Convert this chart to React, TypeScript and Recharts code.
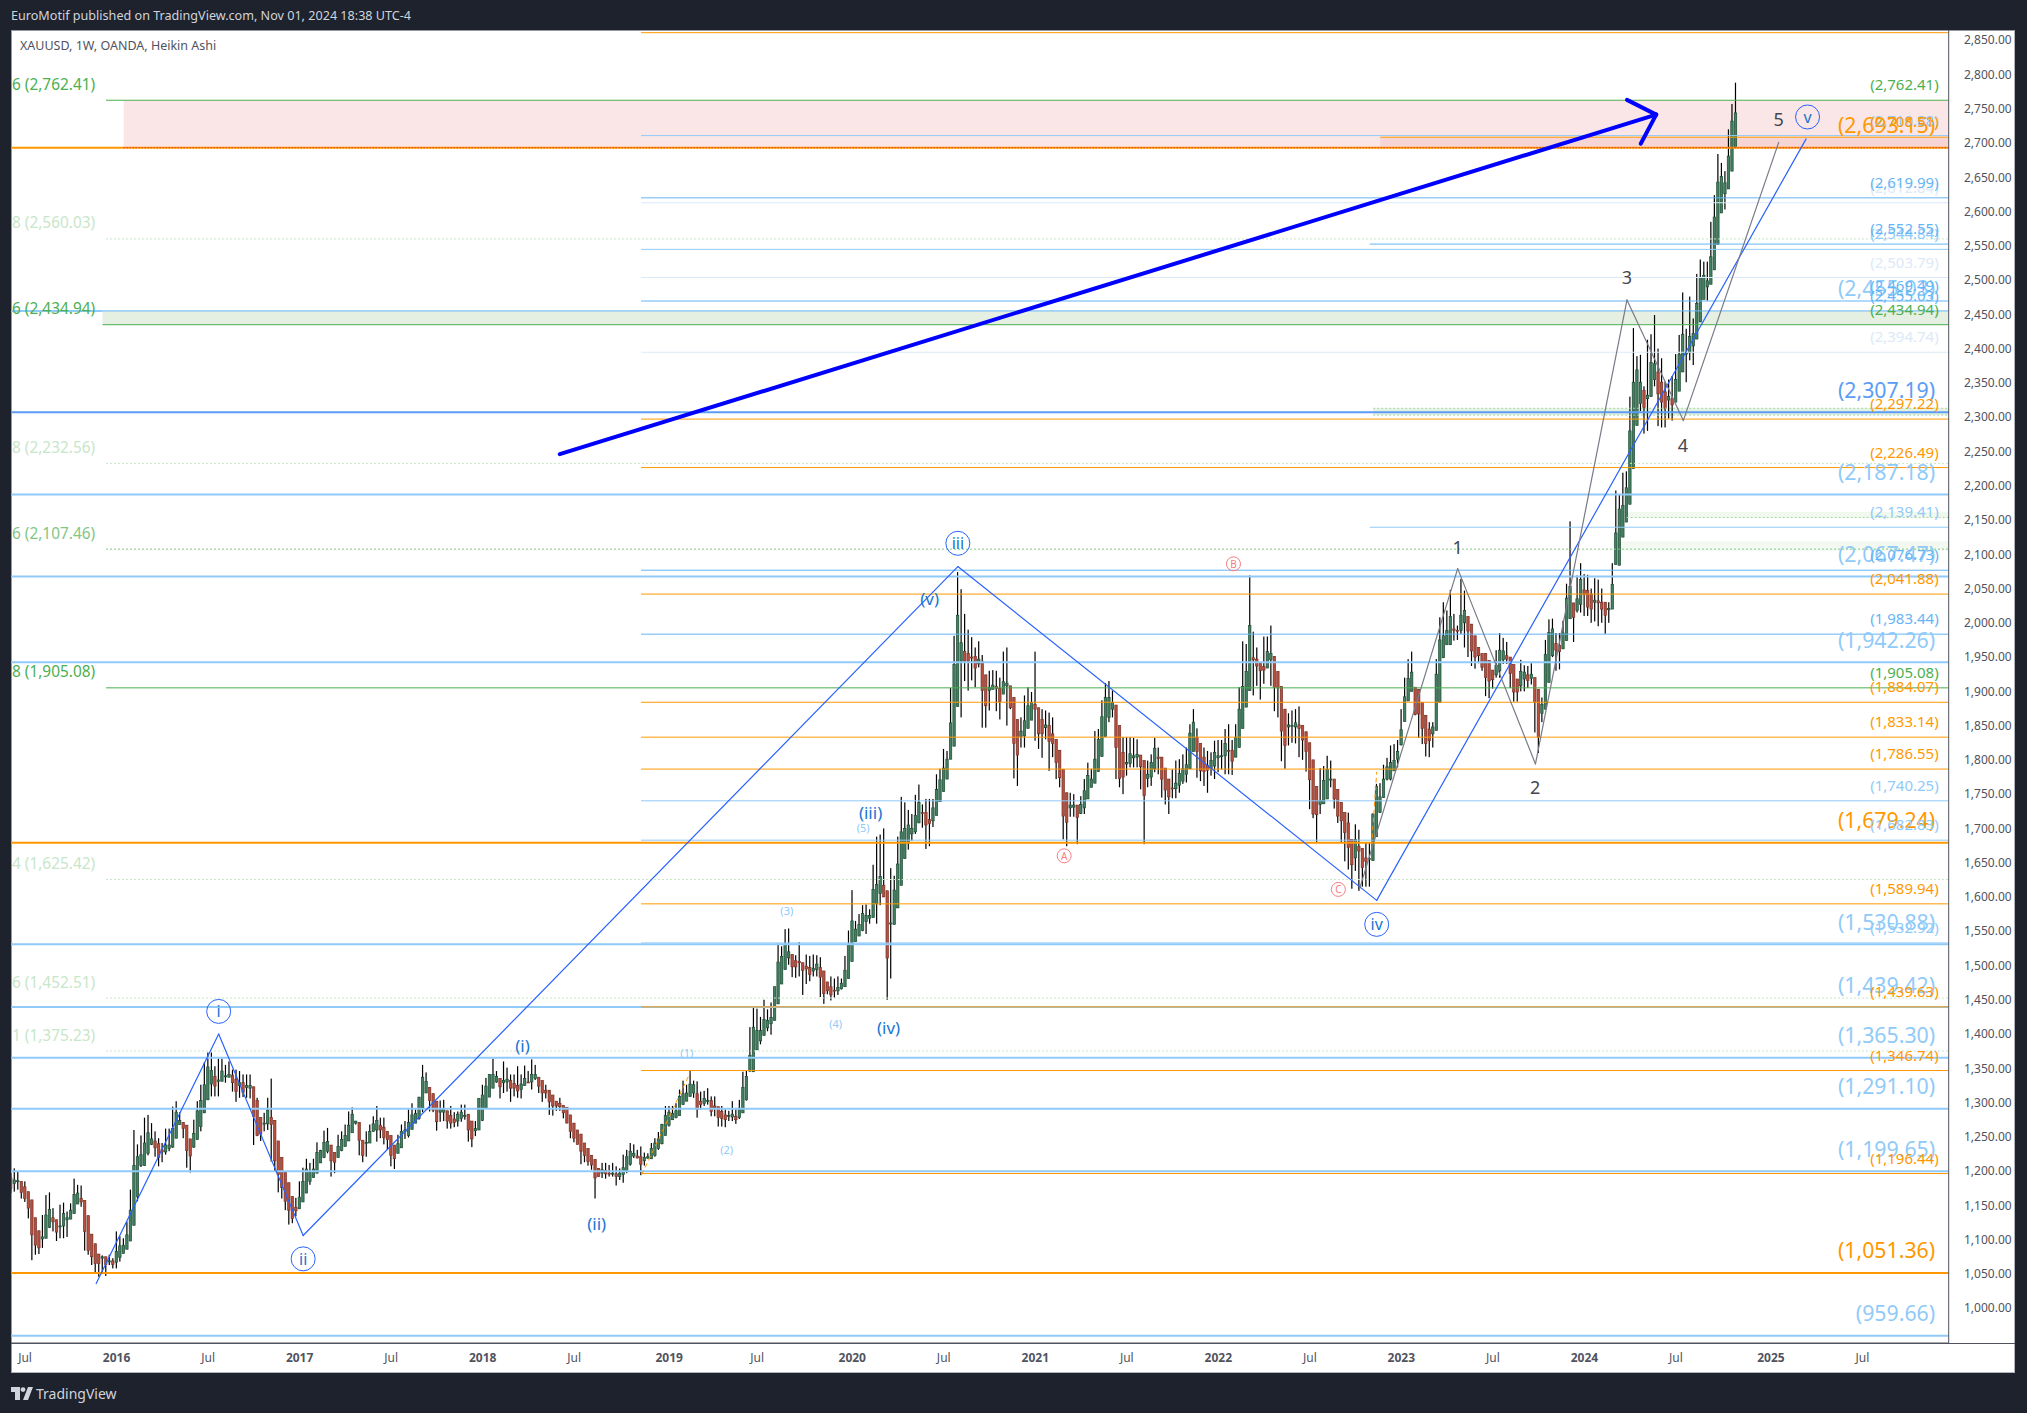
import { Bar, ComposedChart, ReferenceArea, ReferenceDot, ReferenceLine, XAxis, YAxis } from "recharts";

// weekly heikin ashi candles: [open, close, high, low]
const weeks2015 = [
  [1190, 1175, 1197, 1168], [1182, 1187, 1204, 1170], [1185, 1186, 1199, 1173], [1185, 1169, 1185, 1160], [1177, 1160, 1185, 1155],
  [1170, 1146, 1170, 1131], [1158, 1107, 1158, 1070], [1132, 1092, 1132, 1078], [1113, 1088, 1113, 1079], [1101, 1104, 1136, 1088],
  [1102, 1136, 1165, 1102], [1118, 1144, 1169, 1117], [1132, 1126, 1146, 1112], [1129, 1111, 1129, 1098], [1120, 1120, 1151, 1102],
  [1120, 1138, 1154, 1102], [1129, 1132, 1141, 1104], [1130, 1143, 1153, 1130], [1138, 1166, 1189, 1138], [1152, 1168, 1180, 1152],
  [1160, 1155, 1179, 1148], [1157, 1112, 1157, 1084], [1135, 1084, 1135, 1078], [1108, 1075, 1108, 1063], [1094, 1065, 1094, 1050],
  [1079, 1065, 1079, 1046], [1073, 1075, 1077, 1051], [1075, 1064, 1075, 1047], [1069, 1069, 1078, 1063], [1069, 1064, 1073, 1058],
];
const weeks2016 = [
  [1067, 1083, 1112, 1058], [1074, 1091, 1105, 1068], [1080, 1092, 1102, 1080], [1086, 1107, 1126, 1086], [1098, 1143, 1173, 1098],
  [1121, 1208, 1260, 1121], [1163, 1221, 1239, 1156], [1208, 1224, 1252, 1206], [1208, 1241, 1278, 1208], [1226, 1256, 1282, 1223],
  [1239, 1247, 1270, 1238], [1244, 1234, 1258, 1221], [1240, 1220, 1248, 1207], [1231, 1228, 1241, 1213], [1228, 1238, 1262, 1224],
  [1233, 1238, 1262, 1229], [1235, 1262, 1294, 1234], [1248, 1286, 1302, 1248], [1268, 1274, 1286, 1268], [1271, 1262, 1271, 1248],
  [1267, 1230, 1267, 1205], [1247, 1222, 1247, 1198], [1235, 1255, 1275, 1234], [1246, 1288, 1302, 1246], [1265, 1303, 1326, 1258],
  [1285, 1326, 1359, 1285], [1304, 1352, 1373, 1304], [1327, 1347, 1373, 1309], [1338, 1324, 1353, 1309], [1331, 1333, 1364, 1309],
  [1331, 1346, 1364, 1332], [1339, 1339, 1355, 1329], [1337, 1341, 1360, 1337], [1340, 1329, 1348, 1316], [1334, 1316, 1348, 1301],
  [1325, 1329, 1346, 1307], [1329, 1315, 1341, 1308], [1322, 1325, 1341, 1307], [1321, 1325, 1341, 1306], [1323, 1280, 1323, 1238],
  [1303, 1252, 1307, 1251], [1278, 1254, 1278, 1244], [1269, 1270, 1285, 1258], [1269, 1289, 1307, 1260], [1278, 1268, 1335, 1214],
  [1274, 1215, 1274, 1199], [1244, 1195, 1244, 1169], [1220, 1176, 1220, 1160], [1198, 1156, 1198, 1143], [1183, 1143, 1183, 1122],
  [1163, 1131, 1163, 1124], [1147, 1142, 1161, 1134],
];
const weeks2017 = [
  [1145, 1162, 1185, 1145], [1155, 1185, 1205, 1155], [1168, 1203, 1218, 1168], [1185, 1198, 1212, 1180], [1191, 1203, 1218, 1190],
  [1197, 1227, 1242, 1197], [1212, 1230, 1231, 1212], [1220, 1242, 1259, 1219], [1229, 1243, 1263, 1226], [1238, 1215, 1238, 1192],
  [1227, 1213, 1227, 1197], [1220, 1236, 1253, 1220], [1230, 1246, 1258, 1229], [1236, 1252, 1268, 1236], [1244, 1267, 1287, 1244],
  [1256, 1283, 1293, 1256], [1270, 1273, 1273, 1268], [1271, 1245, 1271, 1223], [1245, 1223, 1245, 1213], [1241, 1242, 1258, 1221],
  [1241, 1258, 1268, 1241], [1258, 1269, 1280, 1258], [1260, 1274, 1295, 1243], [1267, 1260, 1278, 1248], [1264, 1249, 1278, 1239],
  [1258, 1246, 1258, 1231], [1252, 1223, 1252, 1207], [1238, 1218, 1238, 1203], [1226, 1240, 1253, 1226], [1234, 1258, 1268, 1234],
  [1258, 1260, 1273, 1247], [1252, 1271, 1290, 1249], [1261, 1282, 1299, 1261], [1270, 1284, 1290, 1270], [1277, 1308, 1308, 1275],
  [1292, 1337, 1355, 1286], [1314, 1331, 1344, 1314], [1322, 1303, 1322, 1287], [1313, 1289, 1313, 1286], [1302, 1272, 1302, 1259],
  [1286, 1290, 1303, 1272], [1286, 1290, 1304, 1273], [1288, 1273, 1288, 1262], [1281, 1270, 1295, 1262], [1276, 1271, 1286, 1264],
  [1273, 1283, 1287, 1265], [1277, 1286, 1297, 1272], [1281, 1281, 1297, 1275], [1283, 1260, 1283, 1243], [1273, 1247, 1273, 1235],
  [1259, 1262, 1273, 1251], [1260, 1306, 1306, 1260],
];
const weeks2018 = [
  [1274, 1311, 1326, 1273], [1292, 1324, 1336, 1292], [1308, 1341, 1341, 1308], [1321, 1341, 1364, 1321], [1330, 1338, 1346, 1329],
  [1335, 1323, 1335, 1306], [1329, 1332, 1360, 1314], [1330, 1334, 1351, 1316], [1332, 1321, 1341, 1301], [1328, 1321, 1341, 1309],
  [1325, 1317, 1353, 1307], [1319, 1327, 1341, 1306], [1325, 1335, 1354, 1325], [1330, 1329, 1346, 1329], [1330, 1341, 1363, 1319],
  [1335, 1341, 1355, 1333], [1337, 1324, 1337, 1314], [1332, 1314, 1332, 1301], [1318, 1314, 1326, 1306], [1318, 1301, 1318, 1282],
  [1311, 1295, 1311, 1281], [1302, 1295, 1302, 1288], [1299, 1294, 1307, 1288], [1296, 1285, 1296, 1277], [1293, 1270, 1293, 1270],
  [1282, 1258, 1282, 1248], [1270, 1248, 1270, 1242], [1260, 1239, 1260, 1239], [1254, 1229, 1254, 1210], [1241, 1223, 1241, 1213],
  [1233, 1214, 1233, 1208], [1223, 1209, 1223, 1202], [1217, 1190, 1217, 1160], [1204, 1192, 1204, 1192], [1197, 1202, 1212, 1190],
  [1201, 1196, 1212, 1189], [1197, 1196, 1209, 1192], [1197, 1197, 1212, 1192], [1196, 1192, 1207, 1179], [1192, 1197, 1204, 1187],
  [1195, 1205, 1224, 1183], [1200, 1221, 1231, 1197], [1210, 1229, 1241, 1208], [1222, 1226, 1239, 1219], [1222, 1219, 1231, 1219],
  [1221, 1210, 1236, 1194], [1215, 1220, 1227, 1208], [1219, 1221, 1226, 1218], [1218, 1233, 1241, 1218], [1223, 1241, 1248, 1221],
  [1233, 1247, 1257, 1231], [1240, 1268, 1269, 1239], [1252, 1281, 1295, 1252],
];
const weeks2019 = [
  [1267, 1286, 1295, 1265], [1275, 1284, 1295, 1275], [1278, 1288, 1299, 1277], [1281, 1309, 1319, 1281], [1297, 1313, 1332, 1297],
  [1302, 1314, 1326, 1302], [1309, 1327, 1346, 1309], [1314, 1326, 1332, 1307], [1313, 1290, 1331, 1278], [1302, 1297, 1316, 1290],
  [1299, 1306, 1317, 1295], [1302, 1303, 1321, 1297], [1303, 1287, 1309, 1280], [1295, 1292, 1309, 1280], [1294, 1278, 1294, 1265],
  [1287, 1277, 1295, 1265], [1282, 1275, 1290, 1264], [1280, 1281, 1288, 1273], [1279, 1283, 1302, 1273], [1280, 1275, 1290, 1269],
  [1278, 1292, 1304, 1276], [1285, 1322, 1345, 1285], [1304, 1338, 1346, 1303], [1346, 1369, 1410, 1345], [1345, 1410, 1438, 1345],
  [1377, 1405, 1437, 1377], [1390, 1405, 1425, 1385], [1398, 1421, 1450, 1398], [1409, 1420, 1436, 1404], [1415, 1424, 1446, 1399],
  [1420, 1469, 1469, 1420], [1444, 1505, 1532, 1444], [1473, 1513, 1528, 1473], [1494, 1531, 1553, 1494], [1511, 1520, 1554, 1501],
  [1516, 1498, 1516, 1483], [1507, 1498, 1515, 1482], [1506, 1504, 1534, 1484], [1504, 1493, 1504, 1457], [1499, 1495, 1516, 1473],
  [1497, 1487, 1514, 1477], [1492, 1496, 1516, 1484], [1494, 1502, 1515, 1484], [1497, 1483, 1512, 1454], [1492, 1459, 1492, 1444],
  [1476, 1463, 1476, 1458], [1469, 1457, 1484, 1449], [1464, 1463, 1481, 1453], [1463, 1468, 1484, 1457], [1466, 1474, 1481, 1465],
  [1469, 1493, 1514, 1469], [1481, 1530, 1551, 1481],
];
const weeks2020 = [
  [1506, 1565, 1610, 1506], [1535, 1553, 1565, 1535], [1543, 1560, 1575, 1543], [1551, 1576, 1588, 1550], [1564, 1573, 1589, 1546],
  [1569, 1573, 1582, 1561], [1570, 1611, 1647, 1570], [1590, 1618, 1688, 1561], [1605, 1630, 1691, 1588], [1617, 1600, 1700, 1600],
  [1609, 1511, 1609, 1450], [1561, 1562, 1642, 1481], [1560, 1610, 1631, 1560], [1584, 1648, 1688, 1584], [1617, 1695, 1746, 1617],
  [1656, 1700, 1738, 1656], [1678, 1705, 1727, 1669], [1692, 1700, 1721, 1682], [1695, 1719, 1749, 1692], [1708, 1738, 1764, 1708],
  [1723, 1722, 1735, 1701], [1723, 1705, 1743, 1670], [1713, 1707, 1743, 1674], [1711, 1730, 1743, 1702], [1719, 1757, 1779, 1719],
  [1739, 1771, 1787, 1739], [1754, 1788, 1816, 1754], [1772, 1801, 1813, 1772], [1801, 1854, 1905, 1801], [1820, 1939, 1981, 1820],
  [1878, 2011, 2074, 1878], [1944, 1971, 2049, 1862], [1958, 1944, 2013, 1915], [1955, 1944, 1990, 1901], [1950, 1949, 1979, 1916],
  [1951, 1934, 1964, 1906], [1940, 1947, 1973, 1935], [1944, 1901, 1953, 1847], [1924, 1879, 1924, 1847], [1901, 1906, 1930, 1872],
  [1903, 1909, 1931, 1903], [1907, 1904, 1930, 1871], [1904, 1885, 1920, 1859], [1896, 1914, 1958, 1896], [1908, 1912, 1964, 1850],
  [1908, 1876, 1908, 1874], [1891, 1824, 1891, 1773], [1859, 1807, 1859, 1762], [1834, 1842, 1862, 1818], [1835, 1857, 1894, 1818],
  [1846, 1879, 1906, 1846], [1858, 1884, 1899, 1858],
];
const weeks2021 = [
  [1881, 1874, 1958, 1828], [1876, 1838, 1876, 1816], [1859, 1838, 1874, 1803], [1847, 1851, 1872, 1830], [1850, 1827, 1869, 1784],
  [1838, 1824, 1862, 1804], [1830, 1796, 1830, 1772], [1814, 1774, 1814, 1760], [1786, 1718, 1786, 1684], [1752, 1709, 1752, 1674],
  [1730, 1734, 1752, 1717], [1731, 1734, 1750, 1717], [1734, 1716, 1734, 1677], [1722, 1735, 1747, 1721], [1730, 1755, 1772, 1721],
  [1743, 1777, 1796, 1743], [1760, 1772, 1787, 1760], [1766, 1801, 1842, 1766], [1783, 1830, 1845, 1783], [1805, 1863, 1887, 1805],
  [1834, 1891, 1912, 1834], [1862, 1891, 1915, 1855], [1874, 1884, 1901, 1862], [1880, 1818, 1880, 1772], [1850, 1773, 1850, 1760],
  [1811, 1775, 1833, 1750], [1794, 1796, 1833, 1777], [1795, 1809, 1833, 1789], [1803, 1806, 1832, 1789], [1804, 1808, 1830, 1789],
  [1807, 1790, 1807, 1757], [1799, 1748, 1799, 1677], [1773, 1779, 1799, 1760], [1775, 1796, 1808, 1762], [1787, 1817, 1832, 1782],
  [1804, 1802, 1818, 1779], [1804, 1772, 1804, 1745], [1788, 1756, 1788, 1735], [1772, 1746, 1772, 1721], [1759, 1758, 1786, 1744],
  [1758, 1766, 1799, 1744], [1763, 1780, 1801, 1752], [1769, 1787, 1808, 1765], [1779, 1793, 1818, 1767], [1787, 1839, 1852, 1787],
  [1812, 1855, 1874, 1812], [1833, 1812, 1846, 1774], [1824, 1784, 1824, 1769], [1804, 1783, 1818, 1762], [1792, 1785, 1813, 1752],
  [1787, 1799, 1811, 1777], [1791, 1811, 1828, 1772],
];
const weeks2022 = [
  [1803, 1806, 1829, 1782], [1805, 1806, 1829, 1786], [1806, 1824, 1845, 1779], [1814, 1813, 1852, 1779], [1814, 1798, 1829, 1778],
  [1804, 1833, 1852, 1804], [1818, 1874, 1906, 1818], [1846, 1907, 1973, 1846], [1877, 1929, 1969, 1877], [1901, 1996, 2069, 1901],
  [1949, 1946, 1987, 1894], [1947, 1937, 1964, 1908], [1941, 1930, 1941, 1888], [1936, 1931, 1980, 1911], [1934, 1958, 1980, 1934],
  [1946, 1955, 1996, 1908], [1951, 1906, 1951, 1871], [1929, 1905, 1929, 1862], [1907, 1842, 1907, 1798], [1874, 1821, 1874, 1787],
  [1848, 1851, 1868, 1821], [1850, 1850, 1872, 1825], [1848, 1854, 1874, 1824], [1851, 1846, 1878, 1804], [1850, 1829, 1850, 1800],
  [1841, 1812, 1841, 1783], [1825, 1771, 1825, 1728], [1800, 1721, 1800, 1715], [1761, 1720, 1761, 1679], [1735, 1741, 1788, 1721],
  [1736, 1770, 1791, 1736], [1743, 1786, 1806, 1743], [1772, 1772, 1799, 1760], [1772, 1743, 1772, 1729], [1757, 1718, 1757, 1708],
  [1738, 1711, 1738, 1679], [1723, 1694, 1723, 1652], [1708, 1672, 1723, 1640], [1684, 1647, 1684, 1612], [1657, 1684, 1706, 1638],
  [1674, 1667, 1698, 1609], [1671, 1643, 1671, 1615], [1657, 1652, 1679, 1615], [1655, 1656, 1679, 1615], [1653, 1721, 1722, 1653],
  [1688, 1761, 1765, 1688], [1723, 1746, 1766, 1723], [1745, 1772, 1793, 1745], [1772, 1790, 1803, 1770], [1772, 1796, 1821, 1770],
  [1784, 1799, 1823, 1784], [1801, 1812, 1829, 1789],
];
const weeks2023 = [
  [1822, 1844, 1874, 1821], [1856, 1892, 1920, 1856], [1886, 1919, 1947, 1886], [1900, 1928, 1958, 1900], [1906, 1866, 1906, 1865],
  [1903, 1867, 1903, 1832], [1884, 1846, 1884, 1823], [1865, 1824, 1865, 1805], [1845, 1828, 1855, 1804], [1838, 1848, 1855, 1818],
  [1843, 1925, 1947, 1843], [1884, 1975, 2008, 1884], [1949, 1981, 2030, 1949], [1968, 1989, 2018, 1968], [1968, 2009, 2048, 1968],
  [1991, 1989, 2013, 1974], [1989, 1988, 1996, 1975], [1989, 2011, 2064, 1984], [2000, 2018, 2047, 1964], [2009, 1988, 2009, 1950],
  [1998, 1959, 1998, 1937], [1981, 1950, 1981, 1933], [1964, 1952, 1964, 1941], [1955, 1935, 1955, 1930], [1955, 1920, 1955, 1893],
  [1945, 1915, 1945, 1890], [1931, 1917, 1931, 1904], [1924, 1938, 1960, 1920], [1930, 1960, 1985, 1920], [1946, 1959, 1978, 1940],
  [1952, 1947, 1972, 1940], [1950, 1926, 1950, 1905], [1939, 1899, 1939, 1885], [1918, 1899, 1918, 1885], [1908, 1929, 1946, 1900],
  [1918, 1928, 1938, 1900], [1924, 1916, 1937, 1905], [1919, 1925, 1941, 1910], [1920, 1884, 1920, 1840], [1903, 1833, 1903, 1810],
  [1868, 1881, 1891, 1855], [1874, 1954, 1975, 1874], [1913, 1986, 2005, 1913], [1952, 1991, 2006, 1950], [1970, 1960, 1985, 1930],
  [1967, 1958, 1985, 1932], [1962, 1985, 2003, 1962], [1974, 2036, 2057, 1974], [2006, 2053, 2148, 2006], [2029, 2008, 2029, 1972],
  [2018, 2035, 2069, 2015], [2027, 2063, 2087, 2015], [2048, 2041, 2071, 2010],
];
const weeks2024 = [
  [2047, 2023, 2070, 2010], [2042, 2020, 2050, 2000], [2030, 2033, 2065, 2002], [2032, 2029, 2063, 1995], [2030, 2020, 2050, 2000],
  [2030, 2011, 2030, 1984], [2019, 2021, 2030, 2000], [2020, 2056, 2087, 2020], [2085, 2131, 2193, 2085], [2084, 2166, 2187, 2084],
  [2125, 2171, 2219, 2125], [2147, 2197, 2221, 2147], [2173, 2280, 2330, 2173], [2225, 2351, 2430, 2225], [2288, 2369, 2389, 2288],
  [2320, 2351, 2391, 2309], [2339, 2314, 2345, 2276], [2327, 2332, 2413, 2280], [2330, 2380, 2421, 2330], [2355, 2378, 2449, 2345],
  [2366, 2334, 2400, 2287], [2351, 2322, 2386, 2285], [2337, 2313, 2352, 2285], [2325, 2330, 2355, 2298], [2327, 2318, 2360, 2295],
  [2322, 2355, 2392, 2322], [2338, 2392, 2420, 2338], [2366, 2421, 2482, 2366], [2392, 2394, 2429, 2351], [2394, 2418, 2476, 2383],
  [2404, 2422, 2444, 2376], [2414, 2466, 2509, 2414], [2439, 2504, 2530, 2439], [2472, 2507, 2527, 2472], [2490, 2499, 2527, 2470],
  [2494, 2534, 2585, 2494], [2515, 2592, 2624, 2515], [2552, 2643, 2684, 2552], [2598, 2651, 2671, 2598], [2626, 2642, 2659, 2603],
  [2633, 2681, 2720, 2633], [2659, 2732, 2757, 2659], [2693, 2744, 2788, 2693],
];

const priceTicks = [
  2850, 2800, 2750, 2700, 2650, 2600, 2550, 2500, 2450, 2400, 2350, 2300, 2250, 2200, 2150, 2100, 2050, 2000, 1950,
  1900, 1850, 1800, 1750, 1700, 1650, 1600, 1550, 1500, 1450, 1400, 1350, 1300, 1250, 1200, 1150, 1100, 1050, 1000,
];
const timeTicks = [4, 30, 56, 82, 108, 134, 160, 187, 212, 239, 265, 291, 317, 343, 369, 395, 421, 447, 473, 500, 526];
const timeLabels = ["Jul", "2016", "Jul", "2017", "Jul", "2018", "Jul", "2019", "Jul", "2020", "Jul", "2021", "Jul", "2022", "Jul", "2023", "Jul", "2024", "Jul", "2025", "Jul"];

// horizontal levels
const bigBlueLevels = [2187.18, 2067.47, 1942.26, 1530.88, 1439.42, 1365.3, 1291.1, 1199.65, 959.66];
const bigOrangeLevels = [2693.15, 1679.24, 1051.36];
const midBlueLevels = [2619.99, 2469.49, 2076.73, 1983.44];
const lightBlueLevels = [2710.88, 2544.84, 1740.25, 1682.83, 1532.92];
const paleBlueLevels = [2612.84, 2503.79, 2394.74];
const orangeLevels = [2297.22, 2226.49, 2041.88, 1884.07, 1833.14, 1786.55, 1589.94, 1439.63, 1346.74, 1196.44];
const solidGreenLevels = [2762.41, 2434.94, 1905.08];
const solidGreenDigits = ["6", "6", "8"];
const paleGreenLevels = [2560.03, 2232.56, 1625.42, 1452.51, 1375.23];
const paleGreenDigits = ["8", "8", "4", "6", "1"];
const bandEdges = [[2313, 387], [2303, 387], [2153.7, 459]];

// drawing tools
const blueWaveX = [24.2, 59, 83, 269, 388, 510];
const blueWaveY = [1036, 1400, 1106, 2082, 1595, 2706];
const greyWaveX = [383, 411, 433.1, 459.1, 475.1, 502.2];
const greyWaveY = [1610, 2079, 1794, 2471, 2295, 2701];
const circledWaves = [["i", 59, 1433], ["ii", 83, 1072], ["iii", 269, 2116], ["iv", 388, 1560], ["v", 510.4, 2738]];
const minorWaves = [["(i)", 145.3, 1383], ["(ii)", 166.4, 1124], ["(iii)", 244.2, 1723], ["(iv)", 249.3, 1409], ["(v)", 261, 2035]];
const tinyWaves = [["(1)", 192, 1373], ["(2)", 203.3, 1231], ["(3)", 220.4, 1580], ["(4)", 234.3, 1416], ["(5)", 242.1, 1702]];
const abcWaves = [["A", 299.2, 1660], ["B", 347.3, 2086], ["C", 377.1, 1611]];
const greyCounts = [["1", 411, 2111], ["2", 433, 1761], ["3", 459.1, 2505], ["4", 475, 2259], ["5", 502.2, 2735]];

const candles = [...weeks2015, ...weeks2016, ...weeks2017, ...weeks2018, ...weeks2019, ...weeks2020, ...weeks2021, ...weeks2022, ...weeks2023, ...weeks2024]
  .map(([open, close, high, low], week) => ({ week, open, close, high, low }));

const FONT = "'Noto Sans', sans-serif";
const X_MAX = 550.5;
const GREEN = "#4caf50";
const ORANGE = "#ff9800";
const LIGHT_BLUE = "#90caf9";
const MID_BLUE = "#64b5f6";
const PALE_GREEN = "#c8e6c9";

const price = (v: number) => "(" + v.toLocaleString("en-US", { minimumFractionDigits: 2, maximumFractionDigits: 2 }) + ")";

function Wick(props: any) {
  const { x, y, width, height } = props;
  return <rect x={x + width / 2 - 0.6} y={y} width={1.2} height={height} fill="#000" />;
}

function Body(props: any) {
  const { x, y, width, height, payload } = props;
  const up = payload.close >= payload.open;
  return <rect x={x + 0.3} y={y} width={width - 0.6} height={Math.max(height, 1)} fill={up ? "#447f61" : "#b5503f"} stroke={up ? "#1e4d35" : "#7c3329"} strokeWidth={0.7} />;
}

// a horizontal level from a week to the right edge
const level = (value: number, from: number, color: string, width = 1, dash?: string, to = X_MAX) => (
  <ReferenceLine
    key={`${value}-${color}-${from}`}
    segment={[{ x: from, y: value }, { x: to, y: value }]}
    stroke={color}
    strokeWidth={width}
    strokeDasharray={dash}
    ifOverflow="visible"
  />
);

// text pinned to a data position, moved by a few pixels
const note = (key: string, x: number, y: number, text: string, color: string, size: number, anchor = "middle", dx = 0, dy = 0) => (
  <ReferenceDot
    key={key}
    x={x}
    y={y}
    r={0}
    ifOverflow="visible"
    shape={(p: any) => (
      <text x={p.cx + dx} y={p.cy + dy} fill={color} fontSize={size} fontFamily={FONT} textAnchor={anchor as any} dominantBaseline="central">
        {text}
      </text>
    )}
  />
);

const circled = (key: string, x: number, y: number, text: string, ring: string, color: string, r: number, size: number) => (
  <ReferenceDot
    key={key}
    x={x}
    y={y}
    r={0}
    ifOverflow="visible"
    shape={(p: any) => (
      <g>
        <circle cx={p.cx} cy={p.cy} r={r} fill="none" stroke={ring} strokeWidth={1} />
        <text x={p.cx} y={p.cy} fill={color} fontSize={size} fontFamily={FONT} textAnchor="middle" dominantBaseline="central">
          {text}
        </text>
      </g>
    )}
  />
);

const rightLabel = (value: number, color: string) => note(`r${value}${color}`, X_MAX, value, price(value), color, 15, "end", -10, -16);
const bigLabel = (value: number, color: string) => note(`b${value}${color}`, X_MAX, value, price(value), color, 21.3, "end", -13.5, -23);
const leftLabel = (value: number, digit: string, color: string) => note(`l${value}`, 0, value, `${digit} ${price(value)}`, color, 15.4, "start", 1, -16);

const polyline = (name: string, xs: number[], ys: number[], color: string, width: number, dash?: string) =>
  xs.slice(1).map((x, n) => (
    <ReferenceLine
      key={`${name}${n}`}
      segment={[{ x: xs[n], y: ys[n] }, { x, y: ys[n + 1] }]}
      stroke={color}
      strokeWidth={width}
      strokeDasharray={dash}
      strokeLinecap="round"
      ifOverflow="visible"
    />
  ));

function TimeTick(props: any) {
  const { x, y, index } = props;
  const label = timeLabels[index];
  return (
    <text x={x} y={y + 6} textAnchor="middle" dominantBaseline="central" fontSize={12} fontFamily={FONT} fontWeight={label === "Jul" ? 400 : 700} fill="#50535e">
      {label}
    </text>
  );
}

export default function App() {
  return (
    <div style={{ position: "absolute", left: 0, top: 0, width: 2027, height: 1413, background: "#1e222d", overflow: "hidden", fontFamily: FONT }}>
      <div style={{ position: "absolute", left: 11, top: 7, fontSize: 12.6, color: "#d1d4dc", whiteSpace: "nowrap" }}>EuroMotif published on TradingView.com, Nov 01, 2024 18:38 UTC-4</div>
      <div style={{ position: "absolute", left: 11, top: 30, width: 2004, height: 1343, background: "#fff", boxSizing: "border-box", borderLeft: "1px solid #9598a1", borderTop: "1px solid #9598a1", borderRight: "1px solid #b2b5be", borderBottom: "1px solid #b2b5be" }} />
      <div style={{ position: "absolute", left: 11, top: 1343, width: 2004, height: 1, background: "#50535e" }} />
      <div style={{ position: "absolute", left: 20, top: 37, fontSize: 12.5, color: "#50535e", whiteSpace: "nowrap", zIndex: 2 }}>XAUUSD, 1W, OANDA, Heikin Ashi</div>

      <div style={{ position: "absolute", left: 0, top: 0 }}>
        <ComposedChart width={2027} height={1413} data={candles} margin={{ top: 30, right: 12, bottom: 40, left: 11 }} barCategoryGap={0}>
          <XAxis dataKey="week" type="number" domain={[0, X_MAX]} ticks={timeTicks} interval={0} height={30} allowDataOverflow tickLine={false} axisLine={{ stroke: "#50535e" }} tick={<TimeTick />} />
          <XAxis xAxisId="wicks" dataKey="week" type="number" domain={[0, X_MAX]} ticks={timeTicks} hide allowDataOverflow />
          <YAxis
            orientation="right"
            type="number"
            domain={[949.2, 2864.9]}
            ticks={priceTicks}
            interval={0}
            width={66.3}
            allowDataOverflow
            tickLine={false}
            tickMargin={9.3}
            axisLine={{ stroke: "#50535e" }}
            tick={{ fill: "#50535e", fontSize: 12, fontFamily: FONT }}
            tickFormatter={(v: number) => v.toLocaleString("en-US", { minimumFractionDigits: 2 })}
          />

          <ReferenceArea x1={32} x2={X_MAX} y1={2693.15} y2={2762.41} fill="#fae6e6" fillOpacity={1} stroke="none" ifOverflow="visible" />
          <ReferenceArea x1={389} x2={X_MAX} y1={2693.15} y2={2708.51} fill="#f7d5d5" fillOpacity={1} stroke="none" ifOverflow="visible" />
          <ReferenceArea x1={26} x2={X_MAX} y1={2434.94} y2={2455.03} fill="#e5f0e2" fillOpacity={1} stroke="none" ifOverflow="visible" />
          <ReferenceArea x1={387} x2={X_MAX} y1={2303} y2={2313} fill="#e6f2e0" fillOpacity={1} stroke="none" ifOverflow="visible" />
          <ReferenceArea x1={459} x2={X_MAX} y1={2153.7} y2={2161.6} fill="#f1f8ee" fillOpacity={1} stroke="none" ifOverflow="visible" />
          <ReferenceArea x1={455} x2={X_MAX} y1={2105.6} y2={2119} fill="#f3f9f1" fillOpacity={1} stroke="none" ifOverflow="visible" />

          {paleGreenLevels.map((v) => level(v, 27, PALE_GREEN, 1, "2 2"))}
          {bandEdges.map(([v, from]) => level(v, from, "#a5d6a7", 1, "2 2"))}
          {level(2107.46, 27, "#81c784", 1, "2 2")}
          {paleBlueLevels.map((v) => level(v, 179, "#dbe9f8"))}
          {lightBlueLevels.map((v) => level(v, 179, LIGHT_BLUE))}
          {level(2139.41, 386, LIGHT_BLUE)}
          {midBlueLevels.map((v) => level(v, 179, MID_BLUE))}
          {level(2552.55, 386, MID_BLUE)}
          {bigBlueLevels.map((v) => level(v, 0, LIGHT_BLUE, 2))}
          {level(2455.03, 0, LIGHT_BLUE, 2, undefined, 26)}
          {level(2455.03, 26, MID_BLUE)}
          {level(2307.19, 0, "#5b9cf6", 2)}
          {solidGreenLevels.map((v, n) => level(v, n === 1 ? 26 : 27, GREEN))}
          {level(2861, 179, ORANGE)}
          {orangeLevels.map((v) => level(v, 179, ORANGE))}
          {level(2708.51, 389, ORANGE)}
          {bigOrangeLevels.map((v) => level(v, 0, ORANGE, 2))}
          {level(2693.15, 32, "#d32f2f", 1.2, "1 2")}

          {polyline("dashA", [179.2, 192.9], [1195, 1343], ORANGE, 1, "4 4")}
          {polyline("dashB", [386.7, 388], [1686, 1782], ORANGE, 1, "4 4")}

          <Bar xAxisId="wicks" dataKey={(d: any) => [d.low, d.high]} barSize={3} shape={<Wick />} isAnimationActive={false} />
          <Bar dataKey={(d: any) => [Math.min(d.open, d.close), Math.max(d.open, d.close)]} barSize={3} shape={<Body />} isAnimationActive={false} />

          {polyline("blue", blueWaveX, blueWaveY, "#2962ff", 1.2)}
          {polyline("grey", greyWaveX, greyWaveY, "#787b86", 1.2)}
          {polyline("arrow", [155.9, 467.4], [2246, 2741.4], "#0000ff", 4)}
          {polyline("arrowHead", [459.1, 467.4, 463], [2763, 2741.4, 2699], "#0000ff", 4)}

          {paleGreenLevels.map((v, n) => leftLabel(v, paleGreenDigits[n], PALE_GREEN))}
          {leftLabel(2107.46, "6", "#81c784")}
          {solidGreenLevels.map((v, n) => leftLabel(v, solidGreenDigits[n], GREEN))}

          {paleBlueLevels.map((v) => rightLabel(v, "#dbe9f8"))}
          {bigBlueLevels.map((v) => bigLabel(v, LIGHT_BLUE))}
          {bigLabel(2455.03, LIGHT_BLUE)}
          {bigLabel(2307.19, "#5b9cf6")}
          {bigOrangeLevels.map((v) => bigLabel(v, ORANGE))}
          {lightBlueLevels.map((v) => rightLabel(v, LIGHT_BLUE))}
          {rightLabel(2139.41, LIGHT_BLUE)}
          {midBlueLevels.map((v) => rightLabel(v, MID_BLUE))}
          {rightLabel(2552.55, MID_BLUE)}
          {rightLabel(2455.03, MID_BLUE)}
          {orangeLevels.map((v) => rightLabel(v, ORANGE))}
          {rightLabel(2708.51, ORANGE)}
          {solidGreenLevels.map((v) => rightLabel(v, GREEN))}

          {circledWaves.map(([t, x, y]: any) => circled(`c${t}`, x, y, t, "#2962ff", "#1976d2", 12, 16))}
          {abcWaves.map(([t, x, y]: any) => circled(`a${t}`, x, y, t, "#f77c80", "#f77c80", 7, 10))}
          {minorWaves.map(([t, x, y]: any) => note(`m${t}`, x, y, t, "#1976d2", 17))}
          {tinyWaves.map(([t, x, y]: any) => note(`t${t}`, x, y, t, LIGHT_BLUE, 11))}
          {greyCounts.map(([t, x, y]: any) => note(`g${t}`, x, y, t, "#434651", 18))}
        </ComposedChart>
      </div>

      <svg style={{ position: "absolute", left: 11, top: 1387 }} width={22} height={13} viewBox="0 0 22 13">
        <path d="M0 0h9v13H4V5H0z M17 0h5l-5 13h-5z" fill="#d1d4dc" />
        <circle cx={12} cy={2.6} r={2.4} fill="#d1d4dc" />
      </svg>
      <div style={{ position: "absolute", left: 36, top: 1384, fontSize: 14, color: "#d1d4dc" }}>TradingView</div>
    </div>
  );
}
